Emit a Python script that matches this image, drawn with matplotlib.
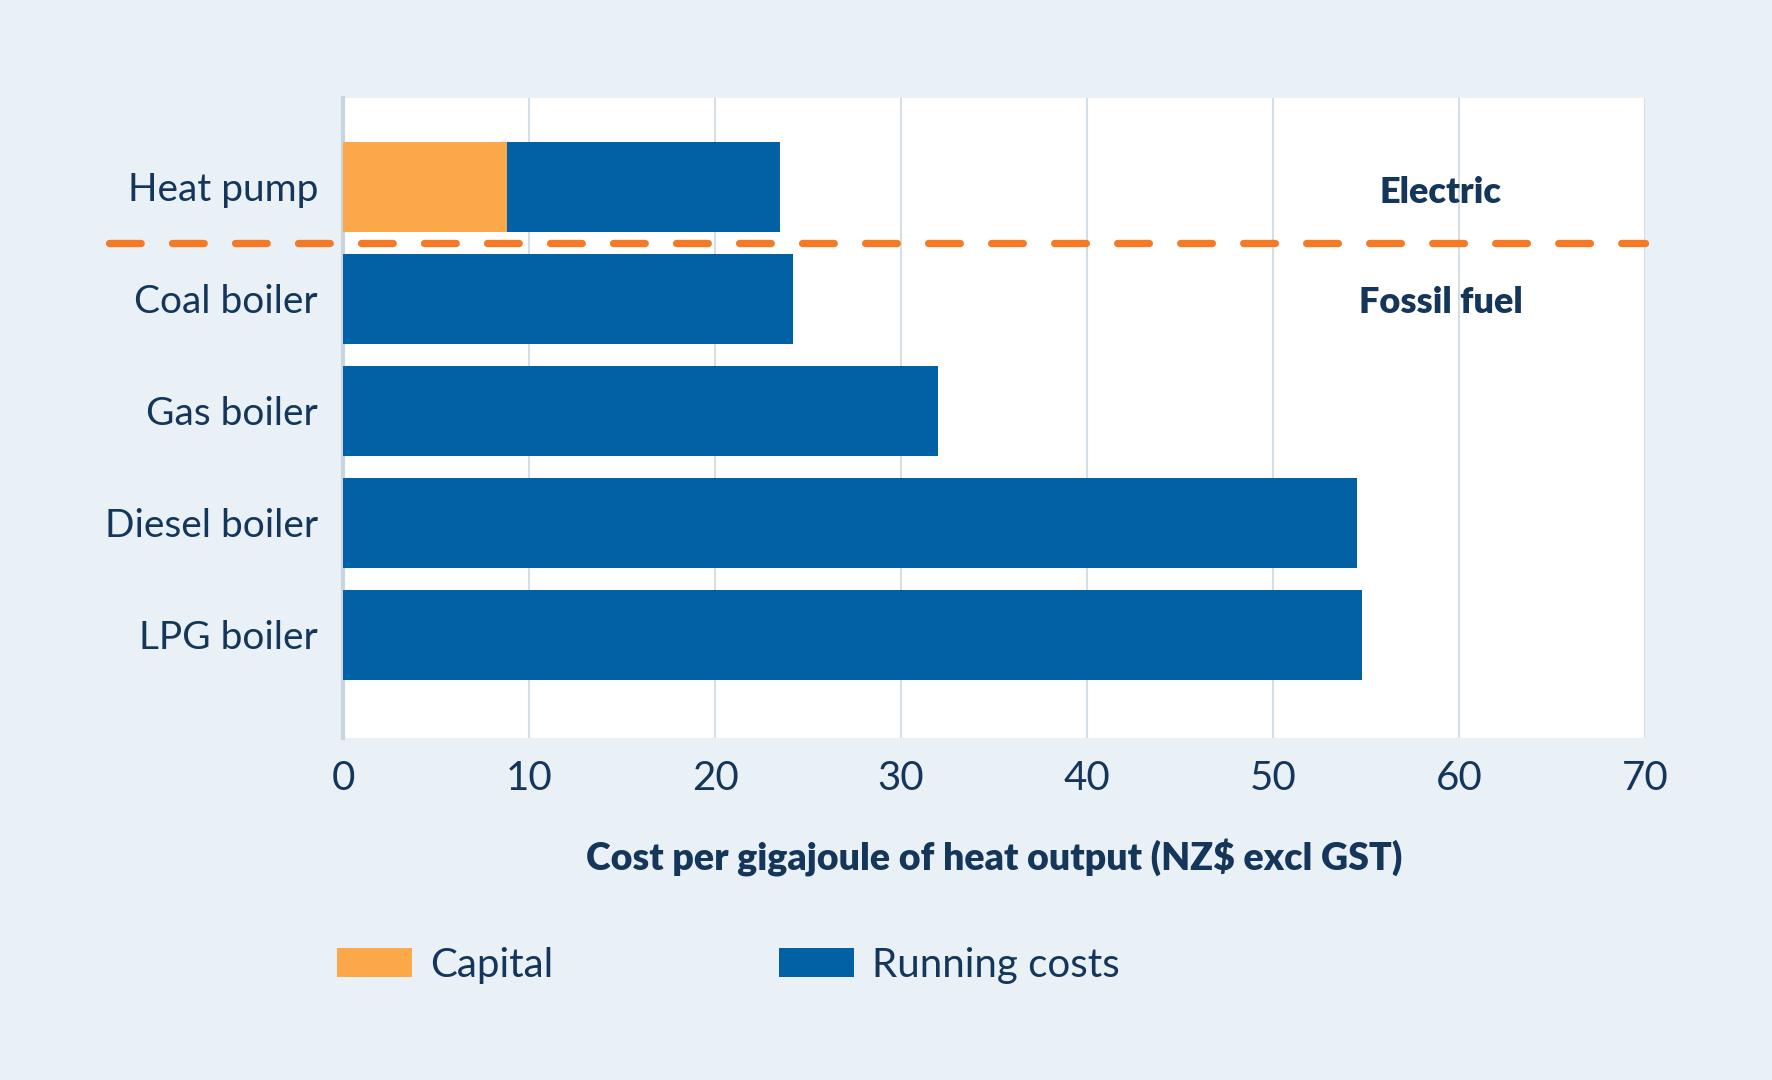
import matplotlib
matplotlib.use("Agg")
import matplotlib.pyplot as plt

# Data (NZ$ per GJ of heat output, excl GST)
categories = ["Heat pump", "Coal boiler", "Gas boiler", "Diesel boiler", "LPG boiler"]
capital = [8.8, 0, 0, 0, 0]
running = [14.7, 24.2, 32.0, 54.5, 54.8]
xticks = [0, 10, 20, 30, 40, 50, 60, 70]

navy = "#14365A"
orange = "#FBA84A"
blue = "#0260A4"
dash_orange = "#F47A26"
bg = "#E9F1F7"

plt.rcParams["font.family"] = ["Lato", "DejaVu Sans"]

fig = plt.figure(figsize=(17.72, 10.8), dpi=100, facecolor=bg)
ax = fig.add_axes([0.1936, 0.3167, 0.7348, 0.5926])
ax.set_facecolor("white")

y = range(len(categories))
b1 = ax.barh(y, capital, height=0.8, color=orange, label="Capital", zorder=3)
b2 = ax.barh(y, running, left=capital, height=0.8, color=blue, label="Running costs", zorder=3)

ax.set_xlim(0, 70)
ax.set_ylim(4.92, -0.795)
ax.set_xticks(xticks)
ax.set_yticks(list(y))
ax.set_yticklabels(categories)
ax.tick_params(axis="both", length=0, labelsize=29, colors=navy)
ax.tick_params(axis="y", pad=18, labelsize=28)
ax.tick_params(axis="x", pad=16)
ax.grid(axis="x", color="#D3DEE6", linewidth=1.5, zorder=0)
for s in ["top", "right", "bottom"]:
    ax.spines[s].set_visible(False)
ax.spines["left"].set_color("#C9D5DE")
ax.spines["left"].set_linewidth(3)

ax.set_xlabel("Cost per gigajoule of heat output (NZ$ excl GST)", fontsize=27,
              fontweight="heavy", color=navy, labelpad=30)

# Divider between electric and fossil fuel options
ax.axhline(0.5, xmin=-0.18, xmax=1.0, color=dash_orange, linewidth=5.3,
           dashes=(4.3, 4.26), dash_capstyle="round", clip_on=False, zorder=4)
ax.text(59, 0.05, "Electric", fontsize=26, fontweight="heavy", color=navy,
        ha="center", va="center")
ax.text(59, 1.03, "Fossil fuel", fontsize=26, fontweight="heavy", color=navy,
        ha="center", va="center")

# Legend entries
for handle, xpos in [(b1, 337), (b2, 779)]:
    fig.legend(handles=[handle], loc="center left",
               bbox_to_anchor=(xpos / 1772, 1 - 965 / 1080), frameon=False,
               fontsize=29, labelcolor=navy, handlelength=1.87, handleheight=0.74,
               handletextpad=0.45, borderpad=0, borderaxespad=0)

fig.savefig("out.png", dpi=100, facecolor=bg)
